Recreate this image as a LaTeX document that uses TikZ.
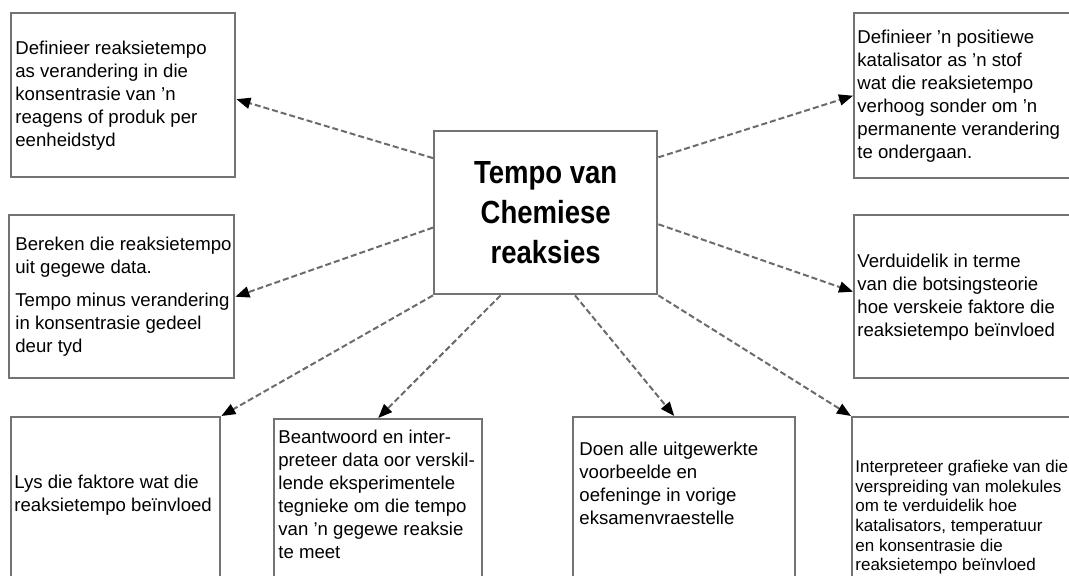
\documentclass[tikz,border=0pt]{standalone}
\usepackage{fontspec}
\setmainfont{Liberation Sans}
\newfontfamily\titlefont[FakeStretch=0.86]{Liberation Sans}
\usetikzlibrary{arrows.meta,calc,positioning}
\definecolor{LineClr}{rgb}{0.45,0.45,0.45}
\definecolor{DashClr}{rgb}{0.42,0.42,0.42}

\begin{document}
\begin{tikzpicture}[x=0.5pt,y=-0.5pt,
  box/.style={draw=LineClr,line width=1.2pt,rectangle,inner sep=0pt,anchor=north west},
  txt/.style={inner sep=0pt,align=left,font=\fontsize{9.3}{11.5}\selectfont},
  link/.style={draw=DashClr,line width=1pt,dash pattern=on 3pt off 1.5pt,
    -{Triangle[length=7pt,width=5.5pt,color=black]}}]
\useasboundingbox (0,0) rectangle (1069,576);
\clip (0,0) rectangle (1069,576);

\node[box,minimum width=111.5pt,minimum height=81.5pt,align=center,
  font=\fontsize{16}{20}\selectfont\titlefont\bfseries] (mid) at (433,130)
  {Tempo van\\Chemiese\\reaksies};

% left column
\node[box,minimum width=112pt,minimum height=82pt] (def) at (10,12) {};
\node[txt,anchor=west] (def-txt) at ([xshift=2.5pt]def.west)
  {Definieer reaksietempo\\as verandering in die\\konsentrasie van ’n\\reagens of produk per\\eenheidstyd};
\node[box,minimum width=112.5pt,minimum height=81.5pt] (ber) at (8,214) {};
\node[txt,anchor=west] (ber-txt) at ([xshift=3.5pt]ber.west)
  {Bereken die reaksietempo\\uit gegewe data.\\[5pt]Tempo minus verandering\\in konsentrasie gedeel\\deur tyd};

% right column
\node[box,minimum width=120pt,minimum height=82.5pt] (kat) at (853,12) {};
\node[txt,anchor=west] (kat-txt) at ([xshift=2pt]kat.west)
  {Definieer ’n positiewe\\katalisator as ’n stof\\wat die reaksietempo\\verhoog sonder om ’n\\permanente verandering\\te ondergaan.};
\node[box,minimum width=120pt,minimum height=81.5pt] (ver) at (853,214) {};
\node[txt,anchor=west] (ver-txt) at ([xshift=2pt]ver.west)
  {Verduidelik in terme\\van die botsingsteorie\\hoe verskeie faktore die\\reaksietempo beïnvloed};

% bottom row
\node[box,minimum width=104.5pt,minimum height=100pt] (lys) at (10,416) {};
\node[txt,anchor=north west] (lys-txt) at ([shift={(4,59)}]lys.north west)
  {Lys die faktore wat die\\reaksietempo beïnvloed};
\node[box,minimum width=104pt,minimum height=100pt] (bea) at (273,418) {};
\node[txt,anchor=north west] (bea-txt) at ([shift={(5,12)}]bea.north west)
  {Beantwoord en inter-\\preteer data oor verskil-\\lende eksperimentele\\tegnieke om die tempo\\van ’n gegewe reaksie\\te meet};
\node[box,minimum width=111pt,minimum height=100pt] (doe) at (572,416) {};
\node[txt,anchor=north west] (doe-txt) at ([shift={(7,26)}]doe.north west)
  {Doen alle uitgewerkte\\voorbeelde en\\oefeninge in vorige\\eksamenvraestelle};
\node[box,minimum width=120pt,minimum height=100pt] (int) at (851,416) {};
\node[txt,anchor=north west,font=\fontsize{8.5}{9.8}\selectfont] (int-txt) at ([shift={(4,44)}]int.north west)
  {Interpreteer grafieke van die\\verspreiding van molekules\\om te verduidelik hoe\\katalisators, temperatuur\\en konsentrasie die\\reaksietempo beïnvloed};

\draw[link] ($(mid.north west)!0.17!(mid.south west)$) -- ([yshift=-2pt]def.east);
\draw[link] ($(mid.north west)!0.59!(mid.south west)$) -- (ber.east);
\draw[link] ($(mid.north east)!0.165!(mid.south east)$) -- (kat.west);
\draw[link] ($(mid.north east)!0.57!(mid.south east)$) -- ([yshift=2.5pt]ver.west);
\draw[link] (mid.south west) -- (lys.north east);
\draw[link] ($(mid.south west)!0.3!(mid.south east)$) -- (bea.north);
\draw[link] ($(mid.south west)!0.63!(mid.south east)$) -- ([xshift=-5pt]doe.north);
\draw[link] (mid.south east) -- (int.north west);
\end{tikzpicture}
\end{document}
